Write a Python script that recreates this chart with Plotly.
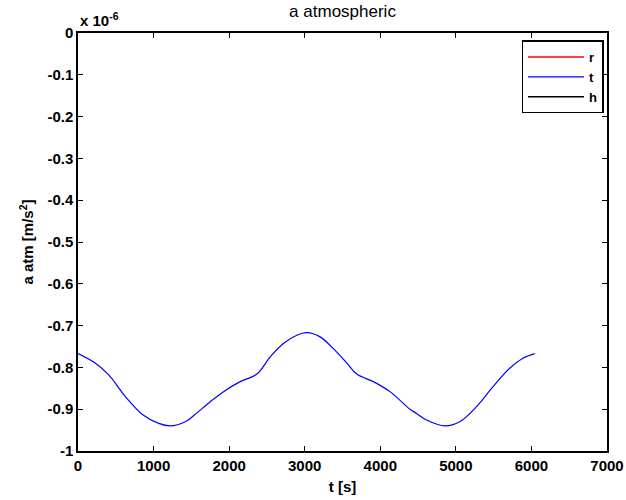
import plotly.graph_objects as go

# time [s] and transverse atmospheric acceleration [x 1e-6 m/s^2]
t_s = [0, 231, 407, 627, 848, 1068, 1222, 1420, 1552, 1750, 1926, 2146, 2367,
       2543, 2718, 2895, 3027, 3203, 3379, 3555, 3688, 3908, 4128, 4392, 4480,
       4612, 4854, 5052, 5273, 5492, 5713, 5889, 6043]
a_t = [-0.767, -0.790, -0.818, -0.870, -0.912, -0.934, -0.940, -0.930, -0.912,
       -0.882, -0.858, -0.834, -0.816, -0.775, -0.743, -0.723, -0.717, -0.727,
       -0.755, -0.789, -0.816, -0.834, -0.858, -0.900, -0.910, -0.926, -0.940,
       -0.930, -0.894, -0.846, -0.802, -0.778, -0.767]

x_ticks = [0, 1000, 2000, 3000, 4000, 5000, 6000, 7000]
y_ticks = [0, -0.1, -0.2, -0.3, -0.4, -0.5, -0.6, -0.7, -0.8, -0.9, -1]
y_tick_text = ["0", "-0.1", "-0.2", "-0.3", "-0.4", "-0.5", "-0.6", "-0.7", "-0.8", "-0.9", "-1"]

FONT = "Liberation Sans, Arial, sans-serif"

fig = go.Figure()
fig.add_trace(go.Scatter(x=[None], y=[None], mode="lines", name="r",
                         line=dict(color="#ff0000", width=1.5)))
fig.add_trace(go.Scatter(x=t_s, y=a_t, mode="lines", name="t",
                         line=dict(color="#0000ff", width=1.2, shape="spline", smoothing=1.0)))
fig.add_trace(go.Scatter(x=[None], y=[None], mode="lines", name="h",
                         line=dict(color="#000000", width=1.5)))

axis_common = dict(showline=True, linecolor="black", linewidth=1.5, mirror="ticks",
                   ticks="inside", ticklen=5, tickwidth=1, tickcolor="black",
                   showgrid=False, zeroline=False, automargin=False,
                   tickfont=dict(family=FONT, size=15, color="black", weight="bold"))

fig.update_layout(
    width=626, height=500,
    paper_bgcolor="white", plot_bgcolor="white",
    margin=dict(l=77.5, r=18.5, t=32.5, b=49, autoexpand=False),
    title=dict(text="a atmospheric", x=0.5, xref="paper", xanchor="center",
               y=1 - 11/500, yanchor="middle",
               font=dict(family=FONT, size=17, color="black")),
    xaxis=dict(range=[0, 7000], tickvals=x_ticks, **axis_common,
               title=dict(text="t [s]", standoff=9,
                          font=dict(family=FONT, size=15, color="black", weight="bold"))),
    yaxis=dict(range=[-1, 0], tickvals=y_ticks, ticktext=y_tick_text, **axis_common,
               title=dict(text="a atm [m/s<sup>2</sup>]", standoff=10,
                          font=dict(family=FONT, size=15, color="black", weight="bold"))),
    legend=dict(x=(604 - 77.5) / 530, y=(451 - 40) / 418.5, xanchor="right", yanchor="top",
                bgcolor="white", bordercolor="black", borderwidth=1.5,
                font=dict(family=FONT, size=13, color="black", weight="bold"),
                itemwidth=56, tracegroupgap=0),
    showlegend=True,
)
fig.add_annotation(text="x 10<sup>-6</sup>", xref="paper", yref="paper", x=0, y=1,
                   xanchor="left", yanchor="bottom", yshift=2, showarrow=False,
                   font=dict(family=FONT, size=15, color="black", weight="bold"))

fig.write_html("out.html")
